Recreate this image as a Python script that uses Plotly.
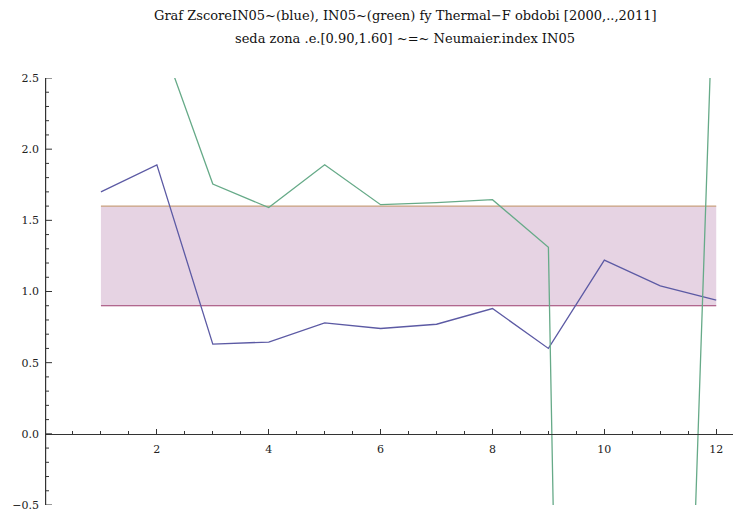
import plotly.graph_objects as go

# Data
years_idx = [1, 2, 3, 4, 5, 6, 7, 8, 9, 10, 11, 12]
zscore_in05 = [1.70, 1.89, 0.63, 0.645, 0.78, 0.74, 0.77, 0.88, 0.60, 1.22, 1.04, 0.94]
in05 = [3.40, 2.85, 1.755, 1.59, 1.89, 1.61, 1.625, 1.645, 1.31, -20.0, -7.9, 3.8]
band_low = 0.90
band_high = 1.60
x_ticks = [2, 4, 6, 8, 10, 12]
y_ticks = [-0.5, 0.0, 0.5, 1.0, 1.5, 2.0, 2.5]
y_ticktext = ["\u22120.5", "0.0", "0.5", "1.0", "1.5", "2.0", "2.5"]

title1 = "Graf ZscoreIN05~(blue), IN05~(green) fy Thermal\u2212F obdobi [2000,..,2011]"
title2 = "seda zona .e.[0.90,1.60] ~=~ Neumaier.index IN05"

W, H = 735, 514
L, R, T, B = 45, 2, 78, 7
y_range = [-0.5, 2.5]
x_range = [0, 12.3]

fig = go.Figure()
fig.add_trace(go.Scatter(x=years_idx, y=[band_low] * len(years_idx), mode="lines",
                         line=dict(color="#9e3f6f", width=1.2), showlegend=False))
fig.add_trace(go.Scatter(x=years_idx, y=[band_high] * len(years_idx), mode="lines",
                         line=dict(color="#c9a27e", width=1.2), fill="tonexty",
                         fillcolor="rgba(222,196,218,0.75)", showlegend=False))
fig.add_trace(go.Scatter(x=years_idx, y=zscore_in05, mode="lines",
                         line=dict(color="#5c5aa4", width=1.3), showlegend=False))
fig.add_trace(go.Scatter(x=years_idx, y=in05, mode="lines",
                         line=dict(color="#66aa88", width=1.3), showlegend=False))

zero_pos = (0 - y_range[0]) / (y_range[1] - y_range[0])
font_serif = "DejaVu Serif"
axis_col = "#333"

fig.update_layout(
    width=W, height=H,
    margin=dict(l=L, r=R, t=T, b=B),
    paper_bgcolor="white", plot_bgcolor="white",
    font=dict(family=font_serif, size=11, color="#222"),
    xaxis=dict(range=x_range, showgrid=False, zeroline=False, showline=False,
               showticklabels=False, ticks=""),
    yaxis=dict(range=y_range, showgrid=False, zeroline=False, showline=False,
               showticklabels=False, ticks=""),
    xaxis2=dict(range=x_range, overlaying="x", anchor="free", position=zero_pos,
                side="bottom", showgrid=False, zeroline=False, showline=True,
                linecolor=axis_col, linewidth=1,
                tickmode="array", tickvals=x_ticks, ticktext=[str(v) for v in x_ticks],
                ticks="inside", ticklen=5, tickcolor=axis_col, tickwidth=1,
                ticklabelstandoff=5,
                minor=dict(ticks="inside", ticklen=3, tickcolor=axis_col, dtick=0.5, tick0=0),
                tickfont=dict(family=font_serif, size=11, color="#222")),
    yaxis2=dict(range=y_range, overlaying="y", anchor="free", position=0,
                side="left", showgrid=False, zeroline=False, showline=False,
                tickmode="array", tickvals=y_ticks, ticktext=y_ticktext,
                ticks="", ticklabelstandoff=6, ticklabeloverflow="allow",
                tickfont=dict(family=font_serif, size=11, color="#222")),
)
fig.add_trace(go.Scatter(x=[x_range[0]], y=[band_low], xaxis="x2", yaxis="y2",
                         mode="markers", marker=dict(opacity=0), showlegend=False,
                         hoverinfo="skip"))

# vertical axis line and inward ticks (major at labelled values, minor every 0.1)
px_per_x = (W - L - R) / (x_range[1] - x_range[0])
major_len = 7 / px_per_x
minor_len = 4 / px_per_x
line_x = x_range[0] + 0.6 / px_per_x
fig.add_shape(type="line", xref="x", yref="y", x0=line_x, x1=line_x,
              y0=y_range[0], y1=y_range[1], line=dict(color=axis_col, width=1.2))
n_minor = int(round((y_range[1] - y_range[0]) / 0.1))
for i in range(n_minor + 1):
    yv = round(y_range[0] + i * 0.1, 3)
    is_major = any(abs(yv - t) < 1e-6 for t in y_ticks)
    fig.add_shape(type="line", xref="x", yref="y", x0=x_range[0],
                  x1=x_range[0] + (major_len if is_major else minor_len),
                  y0=yv, y1=yv, line=dict(color=axis_col, width=1))

cx = (405 - L) / (W - L - R)
fig.add_annotation(text=title1, xref="paper", yref="paper", x=cx, y=1 + (T - 15) / (H - T - B),
                   showarrow=False, xanchor="center", yanchor="middle",
                   font=dict(family=font_serif, size=13, color="#111"))
fig.add_annotation(text=title2, xref="paper", yref="paper", x=cx, y=1 + (T - 38) / (H - T - B),
                   showarrow=False, xanchor="center", yanchor="middle",
                   font=dict(family=font_serif, size=13, color="#111"))

fig.write_html("out.html")
